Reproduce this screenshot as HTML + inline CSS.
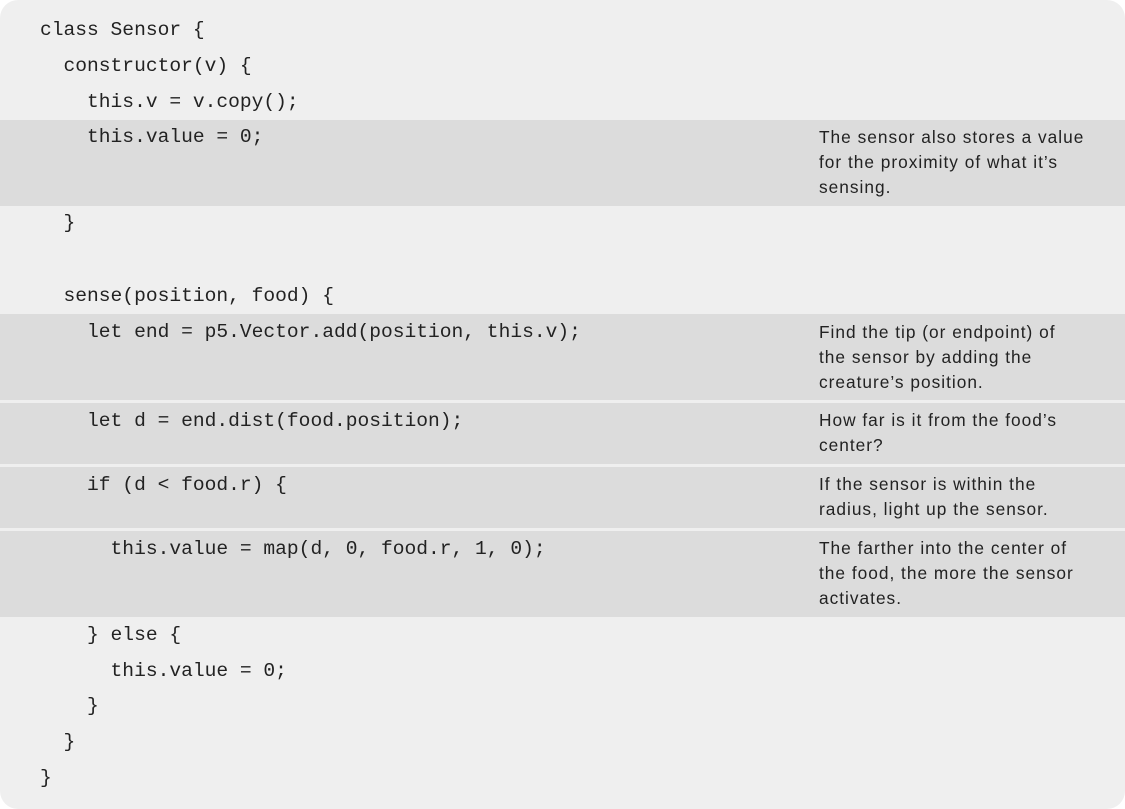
<!DOCTYPE html>
<html><head><style>
body{margin:0;width:1125px;height:809px;background:#fff;position:relative;overflow:hidden}
.panel{position:absolute;left:0;top:0;width:1125px;height:809px;background:#efefef;border-radius:18px;overflow:hidden}
.band{position:absolute;left:0;width:1125px;background:#dcdcdc}
.c{position:absolute;font-family:"Liberation Mono",monospace;font-size:19.6px;color:#222;white-space:pre;line-height:24px}
.n{position:absolute;left:819px;font-family:"Liberation Sans",sans-serif;font-size:17.3px;color:#222;line-height:25px;letter-spacing:1.0px;white-space:nowrap}
</style></head><body><div class="panel">
<div class="band" style="top:120px;height:86px"></div>
<div class="band" style="top:314px;height:86px"></div>
<div class="band" style="top:403px;height:61px"></div>
<div class="band" style="top:467px;height:61px"></div>
<div class="band" style="top:531px;height:86px"></div>
<div class="c" style="left:40px;top:18px">class Sensor {</div>
<div class="c" style="left:40px;top:54px">  constructor(v) {</div>
<div class="c" style="left:40px;top:90px">    this.v = v.copy();</div>
<div class="c" style="left:40px;top:125px">    this.value = 0;</div>
<div class="c" style="left:40px;top:211px">  }</div>
<div class="c" style="left:40px;top:284px">  sense(position, food) {</div>
<div class="c" style="left:40px;top:320px">    let end = p5.Vector.add(position, this.v);</div>
<div class="c" style="left:40px;top:409px">    let d = end.dist(food.position);</div>
<div class="c" style="left:40px;top:473px">    if (d &lt; food.r) {</div>
<div class="c" style="left:40px;top:537px">      this.value = map(d, 0, food.r, 1, 0);</div>
<div class="c" style="left:40px;top:623px">    } else {</div>
<div class="c" style="left:40px;top:659px">      this.value = 0;</div>
<div class="c" style="left:40px;top:694px">    }</div>
<div class="c" style="left:40px;top:730px">  }</div>
<div class="c" style="left:40px;top:766px">}</div>
<div class="n" style="top:125px">The sensor also stores a value<br>for the proximity of what it’s<br>sensing.</div>
<div class="n" style="top:320px">Find the tip (or endpoint) of<br>the sensor by adding the<br>creature’s position.</div>
<div class="n" style="top:408px">How far is it from the food’s<br>center?</div>
<div class="n" style="top:472px">If the sensor is within the<br>radius, light up the sensor.</div>
<div class="n" style="top:536px">The farther into the center of<br>the food, the more the sensor<br>activates.</div>
</div></body></html>
